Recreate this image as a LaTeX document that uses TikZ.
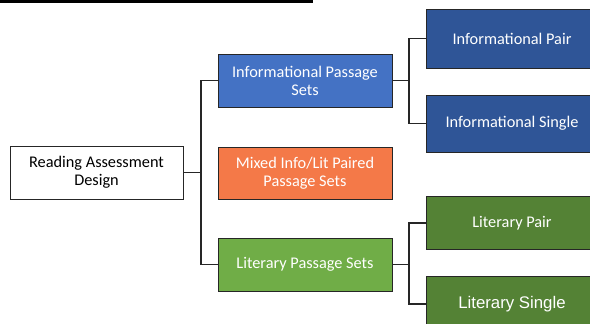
\documentclass[tikz,border=0pt]{standalone}
\usepackage{fontspec}
\setmainfont{Carlito}
\newfontfamily\arialfont{Liberation Sans}
\definecolor{infomid}{RGB}{68,114,196}
\definecolor{infoleaf}{RGB}{47,85,151}
\definecolor{mixorg}{RGB}{244,121,72}
\definecolor{litmid}{RGB}{112,173,71}
\definecolor{litleaf}{RGB}{84,130,53}
\definecolor{edgegray}{RGB}{38,38,38}
\tikzset{
  box/.style={draw=edgegray, line width=0.9pt, minimum width=174pt, minimum height=53pt,
              inner sep=0pt, align=center, font=\fontsize{16.3}{18}\selectfont},
  rootbox/.style={box, fill=white, minimum width=173pt},
  midbox/.style={box, text=white},
  leafbox/.style={box, text=white, minimum width=172pt},
  link/.style={edgegray, line width=1.4pt},
}

\begin{document}
\begin{tikzpicture}[x=1pt, y=-1pt]
    \useasboundingbox (0,0) rectangle (590,324);
    \clip (0,0) rectangle (590,324);
    \draw[line width=3pt] (0,1.5) -- (313,1.5);
    % level 0 and 1
    \node[rootbox] (root) at (96.5,172.5) {Reading Assessment\\Design};
    \node[midbox, fill=infomid] (info) at (305,80.5) {Informational Passage\\Sets};
    \node[midbox, fill=mixorg, minimum height=52pt] (mixed) at (305,173) {Mixed Info/Lit Paired\\Passage Sets};
    \node[midbox, fill=litmid] (lit) at (305,264.5) {Literary Passage Sets};
    % level 2
    \node[leafbox, fill=infoleaf, minimum height=59pt] (ipair) at (512,38.5) {Informational Pair};
    \node[leafbox, fill=infoleaf, minimum height=57pt] (isingle) at (512,123.5) {Informational Single};
    \node[leafbox, fill=litleaf] (lpair) at (512,223) {Literary Pair};
    \node[leafbox, fill=litleaf, minimum height=55pt,
          font=\arialfont\fontsize{16.8}{19}\selectfont] (lsingle) at (512,304) {Literary Single};
    \coordinate (rbus) at (201,172.5);
    \coordinate (ibus) at (409,80.5);
    \coordinate (lbus) at (409,264.5);
    \draw[link] (root.east) -- (rbus);
    \draw[link] (info.west) -| (rbus) |- (lit.west);
    \draw[link] (info.east) -- (ibus);
    \draw[link] (ipair.west) -| (ibus) |- (isingle.west);
    \draw[link] (lit.east) -- (lbus);
    \draw[link] (lpair.west) -| (lbus) |- (lsingle.west);
\end{tikzpicture}
\end{document}
